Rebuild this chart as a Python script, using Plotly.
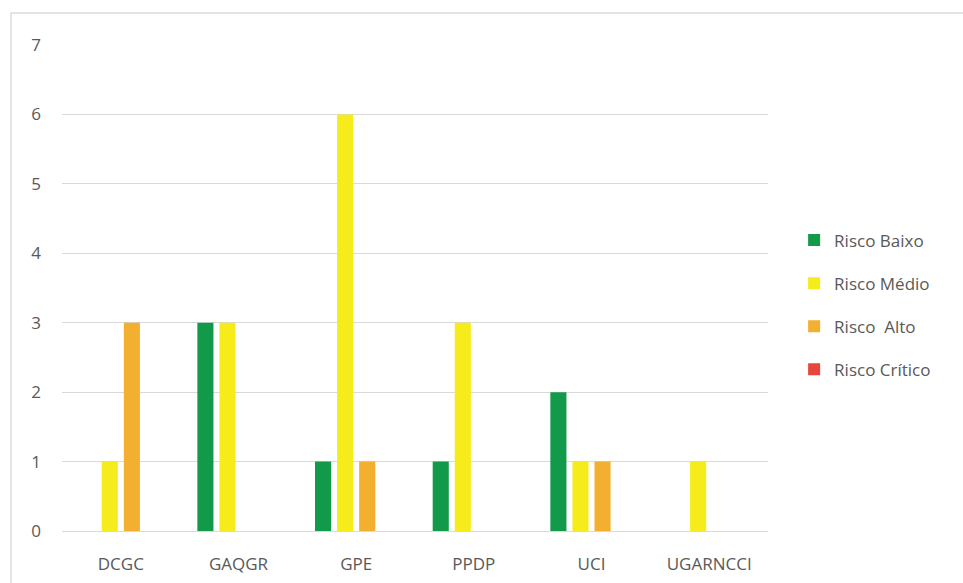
import plotly.graph_objects as go

categories = ["DCGC", "GAQGR", "GPE", "PPDP", "UCI", "UGARNCCI"]
baixo = [0, 3, 1, 1, 2, 0]
medio = [1, 3, 6, 3, 1, 1]
alto = [3, 0, 1, 0, 1, 0]
critico = [0, 0, 0, 0, 0, 0]

series = [
    ("Risco Baixo", baixo, "#12994a"),
    ("Risco Médio", medio, "#f6ec1c"),
    ("Risco  Alto", alto, "#f3b030"),
    ("Risco Crítico", critico, "#e8453c"),
]

fig = go.Figure()
for name, vals, col in series:
    fig.add_trace(go.Bar(x=categories, y=vals, name=name, marker_color=col,
                         marker_line_width=0, legendgroup=name))

font = "Open Sans, Liberation Sans, sans-serif"
fig.update_layout(
    width=963, height=583,
    margin=dict(l=62, r=195, t=45, b=52),
    paper_bgcolor="white", plot_bgcolor="white",
    barmode="group", bargap=0.25, bargroupgap=0.27,
    font=dict(family=font, size=17, color="#595959"),
    legend=dict(x=1.037, y=0.465, xanchor="left", yanchor="middle",
                traceorder="grouped", tracegroupgap=18,
                font=dict(size=17, color="#595959"), itemwidth=30),
    yaxis=dict(range=[0, 7], dtick=1, showgrid=True, gridcolor="#d9d9d9",
               gridwidth=1, zeroline=False, ticks="", ticklabelstandoff=20,
               automargin=False, tickfont=dict(size=17, color="#595959")),
    xaxis=dict(showline=True, linecolor="#d9d9d9", linewidth=1, ticks="",
               ticklabelstandoff=18, automargin=False,
               tickfont=dict(size=17, color="#595959")),
    shapes=[dict(type="rect", xref="paper", yref="paper",
                 x0=-0.0722, x1=1.5, y0=-0.2, y1=1.066,
                 line=dict(color="#dcdcdc", width=1.5))],
)

fig.write_html("out.html")
